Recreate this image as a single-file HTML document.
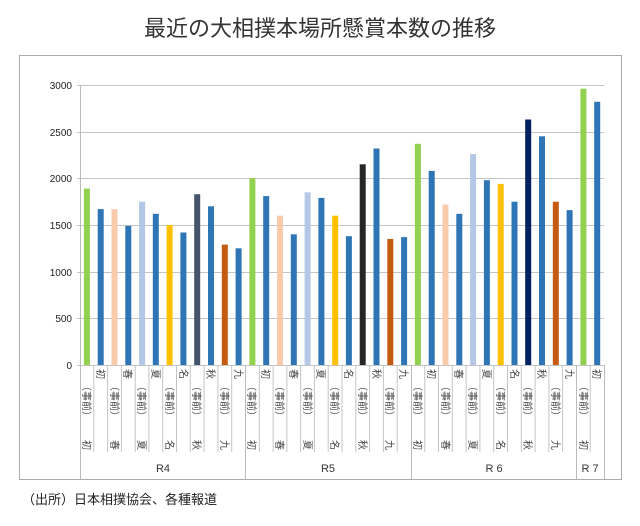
<!DOCTYPE html>
<html><head><meta charset="utf-8"><style>
body{margin:0;background:#fff;width:640px;height:526px;overflow:hidden;position:relative;font-family:"Liberation Sans","Noto Sans CJK JP",sans-serif}
.v{position:absolute;writing-mode:vertical-rl;text-orientation:sideways;font-size:10px;color:#444;line-height:10px;font-family:"Noto Sans CJK JP",sans-serif}
</style></head><body>
<svg width="640" height="526" style="position:absolute;left:0;top:0">
<text x="320" y="36" text-anchor="middle" font-size="22" font-family="Noto Sans CJK JP, sans-serif" fill="#333">最近の大相撲本場所懸賞本数の推移</text>
<rect x="19.5" y="55.5" width="602" height="424" fill="none" stroke="#aaa"/>
<g stroke="#c4c4c4" stroke-width="1">
<line x1="77" y1="85.5" x2="604" y2="85.5"/><line x1="77" y1="132.5" x2="604" y2="132.5"/><line x1="77" y1="178.5" x2="604" y2="178.5"/><line x1="77" y1="225.5" x2="604" y2="225.5"/><line x1="77" y1="272.5" x2="604" y2="272.5"/><line x1="77" y1="318.5" x2="604" y2="318.5"/><line x1="77" y1="365.5" x2="604" y2="365.5"/>
</g>
<g font-size="10" fill="#222" text-anchor="end" font-family="Liberation Sans, sans-serif">
<text x="72" y="89">3000</text><text x="72" y="136">2500</text><text x="72" y="182">2000</text><text x="72" y="229">1500</text><text x="72" y="276">1000</text><text x="72" y="322">500</text><text x="72" y="369">0</text>
</g>
<g stroke="#c4c4c4" id="sep"></g>
<g>
<rect x="83.9" y="188.6" width="6" height="176.4" fill="#92d050"/><rect x="97.7" y="209.1" width="6" height="155.9" fill="#2e75b6"/>
<rect x="111.5" y="209.1" width="6" height="155.9" fill="#f8cbad"/><rect x="125.3" y="225.9" width="6" height="139.1" fill="#2e75b6"/>
<rect x="139.1" y="201.7" width="6" height="163.3" fill="#b4c7e7"/><rect x="152.8" y="213.8" width="6" height="151.2" fill="#2e75b6"/>
<rect x="166.6" y="225" width="6" height="140" fill="#ffc000"/><rect x="180.4" y="232.5" width="6" height="132.5" fill="#2e75b6"/>
<rect x="194.2" y="194.2" width="6" height="170.8" fill="#44546a"/><rect x="208" y="206.3" width="6" height="158.7" fill="#2e75b6"/>
<rect x="221.8" y="244.6" width="6" height="120.4" fill="#c55a11"/><rect x="235.6" y="248.3" width="6" height="116.7" fill="#2e75b6"/>
<rect x="249.4" y="178.3" width="6" height="186.7" fill="#92d050"/><rect x="263.2" y="196.1" width="6" height="168.9" fill="#2e75b6"/>
<rect x="277" y="215.7" width="6" height="149.3" fill="#f8cbad"/><rect x="290.8" y="234.3" width="6" height="130.7" fill="#2e75b6"/>
<rect x="304.6" y="192.3" width="6" height="172.7" fill="#b4c7e7"/><rect x="318.4" y="197.9" width="6" height="167.1" fill="#2e75b6"/>
<rect x="332.2" y="215.7" width="6" height="149.3" fill="#ffc000"/><rect x="345.9" y="236.2" width="6" height="128.8" fill="#2e75b6"/>
<rect x="359.7" y="164.3" width="6" height="200.7" fill="#262626"/><rect x="373.5" y="148.5" width="6" height="216.5" fill="#2e75b6"/>
<rect x="387.3" y="239" width="6" height="126" fill="#c55a11"/><rect x="401.1" y="237.1" width="6" height="127.9" fill="#2e75b6"/>
<rect x="414.9" y="143.8" width="6" height="221.2" fill="#92d050"/><rect x="428.7" y="170.9" width="6" height="194.1" fill="#2e75b6"/>
<rect x="442.5" y="204.5" width="6" height="160.5" fill="#f8cbad"/><rect x="456.3" y="213.8" width="6" height="151.2" fill="#2e75b6"/>
<rect x="470.1" y="154.1" width="6" height="210.9" fill="#b4c7e7"/><rect x="483.9" y="180.2" width="6" height="184.8" fill="#2e75b6"/>
<rect x="497.7" y="183.9" width="6" height="181.1" fill="#ffc000"/><rect x="511.5" y="201.7" width="6" height="163.3" fill="#2e75b6"/>
<rect x="525.2" y="119.5" width="6" height="245.5" fill="#002060"/><rect x="539" y="136.3" width="6" height="228.7" fill="#2e75b6"/>
<rect x="552.8" y="201.7" width="6" height="163.3" fill="#c55a11"/><rect x="566.6" y="210.1" width="6" height="154.9" fill="#2e75b6"/>
<rect x="580.4" y="88.7" width="6" height="276.3" fill="#92d050"/><rect x="594.2" y="101.8" width="6" height="263.2" fill="#2e75b6"/>
</g>
<g stroke="#bbb">
<line x1="80.5" y1="365" x2="80.5" y2="479"/><line x1="245.5" y1="365" x2="245.5" y2="479"/><line x1="411.5" y1="365" x2="411.5" y2="479"/><line x1="576.5" y1="365" x2="576.5" y2="479"/><line x1="604.5" y1="365" x2="604.5" y2="479"/>
<line x1="80.5" y1="85" x2="80.5" y2="365"/>
</g>
<g font-size="11" fill="#333" text-anchor="middle" font-family="Liberation Sans, sans-serif">
<text x="163" y="472">R4</text><text x="328" y="472">R5</text><text x="494" y="472">R 6</text><text x="590" y="472">R 7</text>
</g>
<text x="22" y="504" font-size="13" fill="#222" font-family="Noto Sans CJK JP, sans-serif">（出所）日本相撲協会、各種報道</text>
</svg>
<script>
var s=13.79,g=document.getElementById('sep'),h='';
for(var k=1;k<38;k++){if(k%12==0)continue;var x=(80+s*k).toFixed(1);h+='<line x1="'+x+'" y1="365" x2="'+x+'" y2="452"/>';}
g.innerHTML=h;
</script>
<div class="v" style="left:82px;top:381px">（事前）</div><div class="v" style="left:82px;top:440px">初</div><div class="v" style="left:96px;top:369px">初</div>
<div class="v" style="left:110px;top:381px">（事前）</div><div class="v" style="left:110px;top:440px">春</div><div class="v" style="left:123px;top:369px">春</div>
<div class="v" style="left:137px;top:381px">（事前）</div><div class="v" style="left:137px;top:440px">夏</div><div class="v" style="left:151px;top:369px">夏</div>
<div class="v" style="left:165px;top:381px">（事前）</div><div class="v" style="left:165px;top:440px">名</div><div class="v" style="left:179px;top:369px">名</div>
<div class="v" style="left:192px;top:381px">（事前）</div><div class="v" style="left:192px;top:440px">秋</div><div class="v" style="left:206px;top:369px">秋</div>
<div class="v" style="left:220px;top:381px">（事前）</div><div class="v" style="left:220px;top:440px">九</div><div class="v" style="left:234px;top:369px">九</div>
<div class="v" style="left:247px;top:381px">（事前）</div><div class="v" style="left:247px;top:440px">初</div><div class="v" style="left:261px;top:369px">初</div>
<div class="v" style="left:275px;top:381px">（事前）</div><div class="v" style="left:275px;top:440px">春</div><div class="v" style="left:289px;top:369px">春</div>
<div class="v" style="left:303px;top:381px">（事前）</div><div class="v" style="left:303px;top:440px">夏</div><div class="v" style="left:316px;top:369px">夏</div>
<div class="v" style="left:330px;top:381px">（事前）</div><div class="v" style="left:330px;top:440px">名</div><div class="v" style="left:344px;top:369px">名</div>
<div class="v" style="left:358px;top:381px">（事前）</div><div class="v" style="left:358px;top:440px">秋</div><div class="v" style="left:372px;top:369px">秋</div>
<div class="v" style="left:385px;top:381px">（事前）</div><div class="v" style="left:385px;top:440px">九</div><div class="v" style="left:399px;top:369px">九</div>
<div class="v" style="left:413px;top:381px">（事前）</div><div class="v" style="left:413px;top:440px">初</div><div class="v" style="left:427px;top:369px">初</div>
<div class="v" style="left:441px;top:381px">（事前）</div><div class="v" style="left:441px;top:440px">春</div><div class="v" style="left:454px;top:369px">春</div>
<div class="v" style="left:468px;top:381px">（事前）</div><div class="v" style="left:468px;top:440px">夏</div><div class="v" style="left:482px;top:369px">夏</div>
<div class="v" style="left:496px;top:381px">（事前）</div><div class="v" style="left:496px;top:440px">名</div><div class="v" style="left:510px;top:369px">名</div>
<div class="v" style="left:523px;top:381px">（事前）</div><div class="v" style="left:523px;top:440px">秋</div><div class="v" style="left:537px;top:369px">秋</div>
<div class="v" style="left:551px;top:381px">（事前）</div><div class="v" style="left:551px;top:440px">九</div><div class="v" style="left:565px;top:369px">九</div>
<div class="v" style="left:579px;top:381px">（事前）</div><div class="v" style="left:579px;top:440px">初</div><div class="v" style="left:592px;top:369px">初</div>
</body></html>
